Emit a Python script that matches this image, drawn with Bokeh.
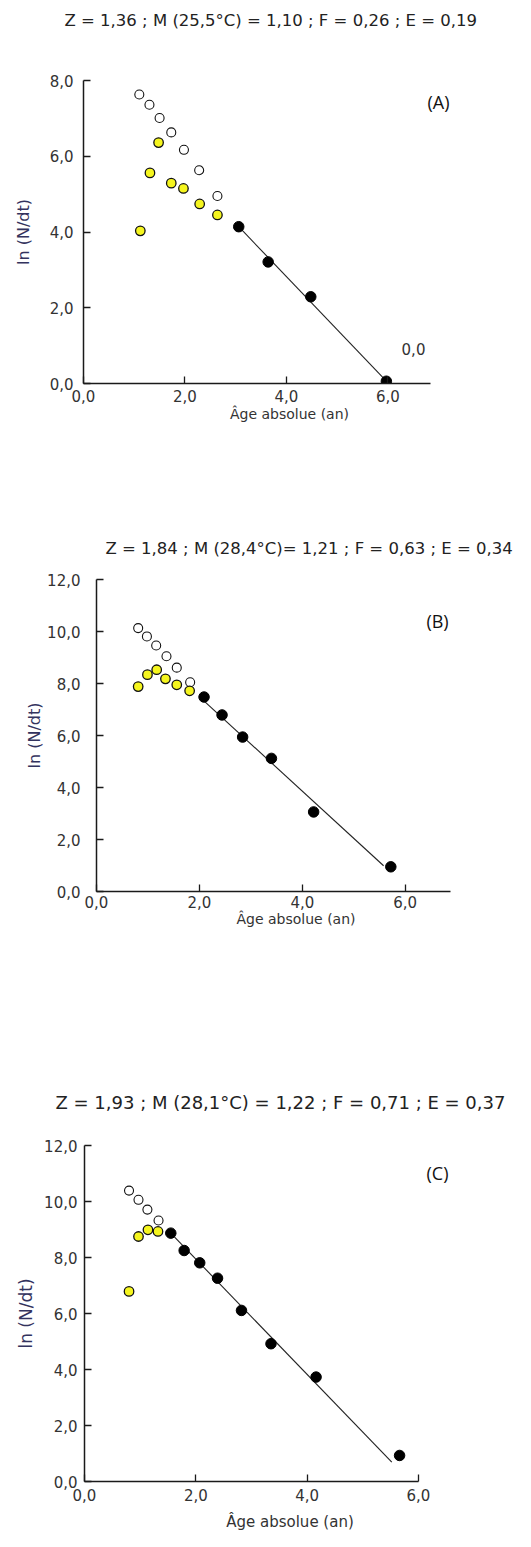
from bokeh.plotting import figure
from bokeh.models import Label, FixedTicker, Range1d, Title
from bokeh.embed import file_html
from bokeh.resources import INLINE

# ---------------- data ----------------
titles = [
    "Z = 1,36 ; M (25,5°C) = 1,10 ; F = 0,26 ; E = 0,19",
    "Z = 1,84 ; M (28,4°C)= 1,21 ; F = 0,63 ; E = 0,34",
    "Z = 1,93 ; M (28,1°C) = 1,22 ; F = 0,71 ; E = 0,37",
]
tags = ["(A)", "(B)", "(C)"]
x_label = "Âge absolue (an)"
y_label = "ln (N/dt)"

# Panel A
a_open_x = [1.10, 1.30, 1.50, 1.73, 1.98, 2.28, 2.64]
a_open_y = [7.63, 7.36, 7.01, 6.63, 6.17, 5.63, 4.95]
a_yel_x = [1.12, 1.31, 1.48, 1.73, 1.97, 2.29, 2.64]
a_yel_y = [4.03, 5.56, 6.36, 5.29, 5.15, 4.74, 4.45]
a_blk_x = [3.06, 3.64, 4.48, 5.97]
a_blk_y = [4.14, 3.21, 2.29, 0.06]
a_fit_x = [3.06, 5.97]
a_fit_y = [4.14, 0.06]
a_xticks = [0, 2, 4, 6]
a_yticks = [0, 2, 4, 6, 8]

# Panel B
b_open_x = [0.81, 0.98, 1.16, 1.36, 1.56, 1.82]
b_open_y = [10.13, 9.81, 9.46, 9.05, 8.61, 8.05]
b_yel_x = [0.81, 0.99, 1.17, 1.34, 1.56, 1.81]
b_yel_y = [7.88, 8.34, 8.53, 8.18, 7.95, 7.72]
b_blk_x = [2.09, 2.44, 2.84, 3.40, 4.22, 5.72]
b_blk_y = [7.48, 6.79, 5.94, 5.12, 3.06, 0.95]
b_fit_x = [2.05, 5.58]
b_fit_y = [7.40, 0.99]
b_xticks = [0, 2, 4, 6]
b_yticks = [0, 2, 4, 6, 8, 10, 12]

# Panel C
c_open_x = [0.80, 0.97, 1.13, 1.33]
c_open_y = [10.39, 10.06, 9.71, 9.32]
c_yel_x = [0.80, 0.97, 1.14, 1.32]
c_yel_y = [6.79, 8.75, 8.99, 8.93]
c_blk_x = [1.55, 1.79, 2.07, 2.39, 2.82, 3.35, 4.16, 5.66]
c_blk_y = [8.87, 8.25, 7.81, 7.26, 6.11, 4.92, 3.73, 0.93]
c_fit_x = [1.55, 5.52]
c_fit_y = [8.87, 0.69]
c_xticks = [0, 2, 4, 6]
c_yticks = [0, 2, 4, 6, 8, 10, 12]

FONT = "DejaVu Sans"
W = 515
FRAME_RIGHT = 495  # page x of the (invisible) right edge of every frame


def fmt(v):
    return f"{v:.1f}".replace(".", ",")


def make_panel(spec, opn, yel, blk, fit, xticks, yticks, title, tag, tag_px,
               title_left, title_size, extra_label=None):
    fl, ft, fb, axr = spec["fl"], spec["ft"], spec["fb"], spec["axr"]
    xmax_axis, ymax = spec["xmax"], spec["ymax"]
    ppu = (axr - fl) / xmax_axis
    x_end = (FRAME_RIGHT - fl) / ppu
    p = figure(width=W, height=spec["h"], title=None,
               x_range=Range1d(0, x_end), y_range=Range1d(0, ymax),
               output_backend="svg", toolbar_location=None,
               min_border_left=fl, min_border_right=W - FRAME_RIGHT,
               min_border_top=ft - spec["top"],
               min_border_bottom=spec["top"] + spec["h"] - fb)
    p.outline_line_color = None
    p.xgrid.visible = False
    p.ygrid.visible = False
    p.background_fill_color = "white"
    p.border_fill_color = "white"

    for ax, ticks in ((p.xaxis, xticks), (p.yaxis, yticks)):
        ax.ticker = FixedTicker(ticks=ticks)
        ax.major_label_overrides = {t: fmt(t) for t in ticks}
        ax.minor_tick_line_color = None
        ax.major_tick_in = 7
        ax.major_tick_out = 0
        ax.axis_line_color = "#1a1a1a"
        ax.axis_line_width = 1.5
        ax.major_tick_line_color = "#1a1a1a"
        ax.major_tick_line_width = 1.3
        ax.major_label_text_font = FONT
        ax.major_label_text_font_size = spec["tick_fs"]
        ax.major_label_text_color = "#333333"
        ax.axis_label_text_font = FONT
        ax.axis_label_text_font_style = "normal"
    p.xaxis.bounds = (0, xmax_axis)
    p.xaxis.axis_label = x_label
    p.yaxis.axis_label = y_label
    p.xaxis.axis_label_text_font_size = spec["xlab_fs"]
    p.yaxis.axis_label_text_font_size = spec["ylab_fs"]
    p.xaxis.major_label_standoff = spec["xtick_so"]
    p.yaxis.major_label_standoff = spec["ytick_so"]
    p.xaxis.axis_label_text_color = "#333333"
    p.yaxis.axis_label_text_color = "#33335e"
    p.xaxis.axis_label_standoff = spec["xlab_so"]
    p.yaxis.axis_label_standoff = spec["ylab_so"]

    # spacer (next to the frame) and the real title above it
    spacer = Title(text=" ", text_font_size="1px", standoff=spec["spacer"])
    head = Title(text=title, align="left", offset=title_left - fl,
                 text_font=FONT, text_font_size=title_size,
                 text_font_style="normal", text_color="#222222", standoff=0)
    p.add_layout(spacer, "above")
    p.add_layout(head, "above")

    p.line(fit[0], fit[1], line_color="#222222", line_width=1.1)
    p.scatter(opn[0], opn[1], size=9, marker="circle", fill_color="white",
              line_color="#111111", line_width=1.1)
    p.scatter(yel[0], yel[1], size=9.5, marker="circle", fill_color="#f5f51e",
              line_color="#111111", line_width=1.3)
    p.scatter(blk[0], blk[1], size=10.5, marker="circle", fill_color="black",
              line_color="black", line_width=1)

    def d(px, py):
        return ((px - fl) / ppu, (fb - py) / (fb - ft) * ymax)

    gx, gy = d(*tag_px)
    p.add_layout(Label(x=gx, y=gy, text=tag, text_font="Open Sans",
                       text_font_size="18px", text_color="#111111",
                       text_align="center", text_baseline="middle"))
    if extra_label is not None:
        ex, ey = d(*extra_label[1])
        p.add_layout(Label(x=ex, y=ey, text=extra_label[0], text_font=FONT,
                           text_font_size=spec["tick_fs"], text_color="#333333",
                           text_align="center", text_baseline="middle"))
    return p


specA = dict(top=0, h=520, fl=83, ft=80, fb=383, axr=430, xmax=6.84, ymax=8,
             tick_fs="15px", xlab_fs="14px", ylab_fs="16px", xtick_so=6,
             ytick_so=10, xlab_so=1, ylab_so=14, spacer=48)
specB = dict(top=520, h=540, fl=96, ft=579, fb=891, axr=450, xmax=6.88, ymax=12,
             tick_fs="15px", xlab_fs="14px", ylab_fs="16px", xtick_so=4,
             ytick_so=16, xlab_so=0, ylab_so=0, spacer=19)
specC = dict(top=1060, h=480, fl=84, ft=1145, fb=1481, axr=418, xmax=6.0, ymax=12,
             tick_fs="15px", xlab_fs="15px", ylab_fs="17px", xtick_so=7,
             ytick_so=7, xlab_so=9, ylab_so=5, spacer=30)

pA = make_panel(specA, (a_open_x, a_open_y), (a_yel_x, a_yel_y), (a_blk_x, a_blk_y),
                (a_fit_x, a_fit_y), a_xticks, a_yticks, titles[0], tags[0],
                (438, 101), 64, "16.5px", extra_label=("0,0", (413, 348)))
pB = make_panel(specB, (b_open_x, b_open_y), (b_yel_x, b_yel_y), (b_blk_x, b_blk_y),
                (b_fit_x, b_fit_y), b_xticks, b_yticks, titles[1], tags[1],
                (437, 620), 105, "16.5px")
pC = make_panel(specC, (c_open_x, c_open_y), (c_yel_x, c_yel_y), (c_blk_x, c_blk_y),
                (c_fit_x, c_fit_y), c_xticks, c_yticks, titles[2], tags[2],
                (437, 1172), 55, "18px")

open("out.html", "w").write(file_html([pA, pB, pC], INLINE))
